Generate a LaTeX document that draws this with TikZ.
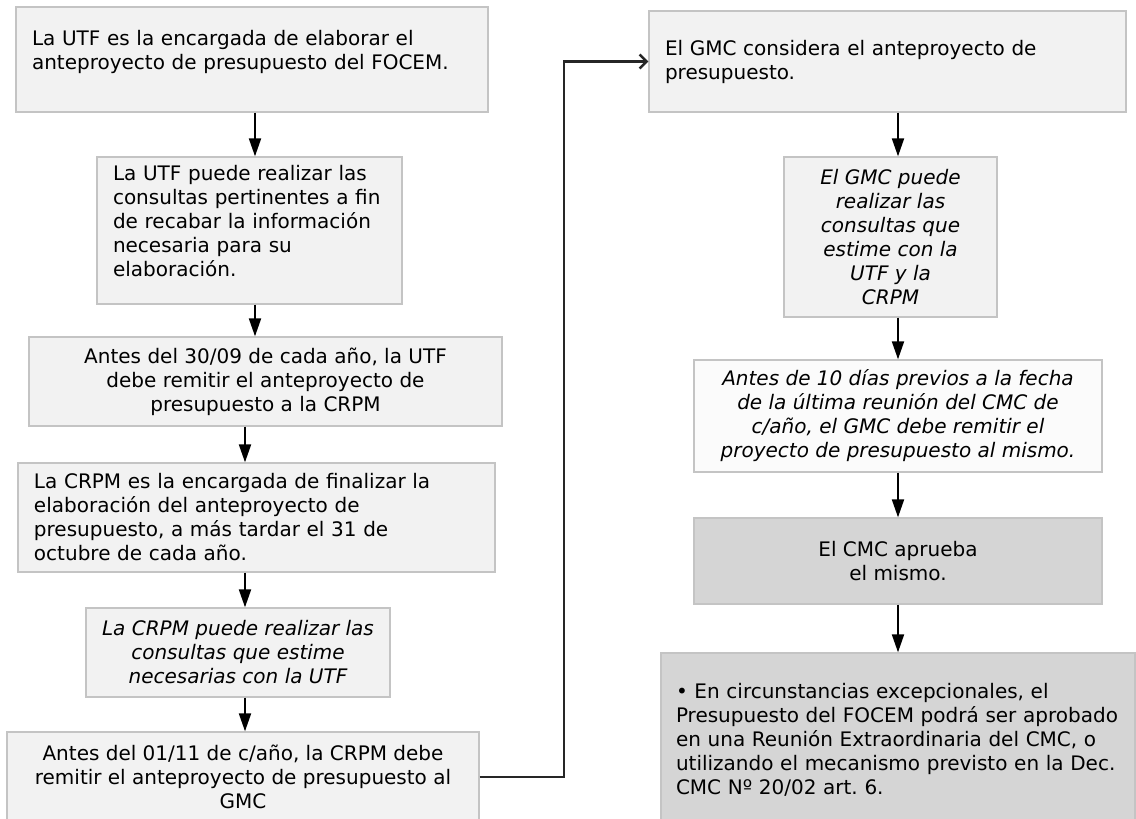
\documentclass[tikz,border=0pt]{standalone}
\usepackage{fontspec}
\setmainfont{DejaVu Sans}
\usepackage{tikz}
\usetikzlibrary{arrows.meta,positioning}
\frenchspacing

\definecolor{boxline}{HTML}{C4C4C4}
\definecolor{boxfill}{HTML}{F2F2F2}
\definecolor{boxwhite}{HTML}{FBFBFB}
\definecolor{boxdark}{HTML}{D5D5D5}

\begin{document}
\begin{tikzpicture}[x=1pt, y=-1pt,
  box/.style={draw=boxline, fill=boxfill, line width=1.3pt, rectangle, inner xsep=16pt, inner ysep=0pt,
    font=\fontsize{20}{24}\selectfont},
  darkbox/.style={box, fill=boxdark},
  arr/.style={line width=2pt, -{Triangle[length=18pt,width=12pt]}},
  link/.style={line width=2.5pt, draw=black!85, -{Straight Barb[length=7pt,width=14pt]}}]
  \useasboundingbox (0,0) rectangle (1136,819);

  % Left column
  \node[box, minimum width=472pt, minimum height=105pt, text width=440pt, align=left] (utfdraft) at (252,59.5)
    {La UTF es la encargada de elaborar el\\anteproyecto de presupuesto del FOCEM.\\[-4pt]\rule{0pt}{1pt}};
  \node[box, minimum width=305pt, minimum height=147pt, text width=273pt, align=left] (utfquery) at (249.5,230.5)
    {La UTF puede realizar las\\consultas pertinentes a fin\\de recabar la información\\necesaria para su\\elaboración.\\[-4pt]\rule{0pt}{1pt}};
  \node[box, minimum width=473pt, minimum height=89pt, align=center] (utfsend) at (265.5,381.5)
    {Antes del 30/09 de cada año, la UTF\\debe remitir el anteproyecto de\\presupuesto a la CRPM};
  \node[box, minimum width=477pt, minimum height=109pt, text width=445pt, align=left] (crpmdraft) at (256.5,517.5)
    {La CRPM es la encargada de finalizar la\\elaboración del anteproyecto de\\presupuesto, a más tardar el 31 de\\octubre de cada año.};
  \node[box, minimum width=304pt, minimum height=89pt, align=center, font=\fontsize{20}{24}\selectfont\itshape] (crpmquery) at (238,652.5)
    {La CRPM puede realizar las\\consultas que estime\\necesarias con la UTF};
  \node[box, minimum width=472pt, minimum height=90pt, align=center] (crpmsend) at (243,777)
    {Antes del 01/11 de c/año, la CRPM debe\\remitir el anteproyecto de presupuesto al\\GMC};

  % Right column
  \node[box, minimum width=477pt, minimum height=101pt, text width=445pt, align=left] (gmcreview) at (887.5,61.5)
    {El GMC considera el anteproyecto de\\presupuesto.};
  \node[box, minimum width=213pt, minimum height=160pt, align=center, font=\fontsize{20}{24}\selectfont\itshape] (gmcquery) at (890.5,237)
    {El GMC puede\\realizar las\\consultas que\\estime con la\\UTF y la\hspace*{36pt}\\CRPM};
  \node[box, fill=boxwhite, minimum width=408pt, minimum height=112pt, align=center, font=\fontsize{20}{24}\selectfont\itshape] (gmcsend) at (898,416)
    {Antes de 10 días previos a la fecha\\de la última reunión del CMC de\\c/año, el GMC debe remitir el\\proyecto de presupuesto al mismo.};
  \node[darkbox, minimum width=408pt, minimum height=86pt, align=center] (cmcapprove) at (898,561)
    {El CMC aprueba\\el mismo.};
  \node[darkbox, minimum width=474pt, minimum height=174pt, text width=444pt, align=left, inner xsep=15pt] (cmcexcept) at (898,740)
    {• En circunstancias excepcionales, el\\Presupuesto del FOCEM podrá ser aprobado\\en una Reunión Extraordinaria del CMC, o\\utilizando el mecanismo previsto en la Dec.\\CMC Nº 20/02 art. 6.};

  % Arrows
  \coordinate (ux) at (255,0);
  \coordinate (lx) at (245,0);
  \coordinate (rx) at (898,0);
  \coordinate (bend) at (564,0);
  \draw[arr] (utfdraft.south -| ux) -- (utfquery.north -| ux);
  \draw[arr] (utfquery.south -| ux) -- (utfsend.north -| ux);
  \draw[arr] (utfsend.south -| lx) -- (crpmdraft.north -| lx);
  \draw[arr] (crpmdraft.south -| lx) -- (crpmquery.north -| lx);
  \draw[arr] (crpmquery.south -| lx) -- (crpmsend.north -| lx);
  \draw[link] (crpmsend.east) -- (crpmsend.east -| bend) -- (bend |- gmcreview.west) -- (gmcreview.west);
  \draw[arr] (gmcreview.south -| rx) -- (gmcquery.north -| rx);
  \draw[arr] (gmcquery.south -| rx) -- (gmcsend.north -| rx);
  \draw[arr] (gmcsend.south -| rx) -- (cmcapprove.north -| rx);
  \draw[arr] (cmcapprove.south -| rx) -- (cmcexcept.north -| rx);
\end{tikzpicture}
\end{document}
